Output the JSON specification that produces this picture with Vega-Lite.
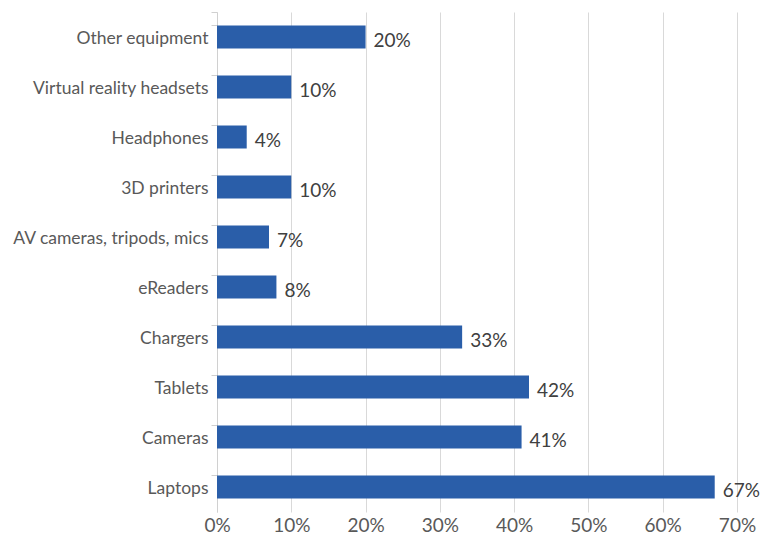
{
  "$schema": "https://vega.github.io/schema/vega-lite/v6.json",
  "width": 520,
  "height": 500,
  "autosize": {"type": "none"},
  "padding": {"left": 217, "top": 12, "right": 26, "bottom": 28},
  "background": "white",
  "config": {"view": {"stroke": null}, "font": "Lato"},
  "data": {
    "values": [
      {"item": "Other equipment", "pct": 0.20},
      {"item": "Virtual reality headsets", "pct": 0.10},
      {"item": "Headphones", "pct": 0.04},
      {"item": "3D printers", "pct": 0.10},
      {"item": "AV cameras, tripods, mics", "pct": 0.07},
      {"item": "eReaders", "pct": 0.08},
      {"item": "Chargers", "pct": 0.33},
      {"item": "Tablets", "pct": 0.42},
      {"item": "Cameras", "pct": 0.41},
      {"item": "Laptops", "pct": 0.67}
    ]
  },
  "encoding": {
    "y": {
      "field": "item",
      "type": "nominal",
      "sort": null,
      "scale": {"paddingInner": 0.54, "paddingOuter": 0.27},
      "axis": {
        "title": null,
        "bandPosition": 0,
        "tickExtra": true,
        "ticks": true,
        "tickSize": 6,
        "tickColor": "#d0d0d0",
        "domainColor": "#d0d0d0",
        "labelFontSize": 17.5,
        "labelColor": "#595959",
        "labelPadding": 3,
        "labelBaseline": "middle",
        "labelOffset": 2,
        "labelLimit": 260,
        "grid": false
      }
    }
  },
  "layer": [
    {
      "mark": {"type": "bar", "color": "#2a5ea9"},
      "encoding": {
        "x": {
          "field": "pct",
          "type": "quantitative",
          "scale": {"domain": [0, 0.7], "nice": false},
          "axis": {
            "title": null,
            "values": [0, 0.1, 0.2, 0.3, 0.4, 0.5, 0.6, 0.7],
            "format": ".0%",
            "domain": false,
            "ticks": false,
            "grid": true,
            "gridColor": "#d9d9d9",
            "labelFontSize": 19,
            "labelColor": "#595959",
            "labelPadding": 4,
            "labelFlush": false
          }
        }
      }
    },
    {
      "mark": {"type": "text", "align": "left", "baseline": "middle", "dx": 8, "dy": 4, "fontSize": 19, "color": "#404040"},
      "encoding": {
        "x": {"field": "pct", "type": "quantitative"},
        "text": {"field": "pct", "type": "quantitative", "format": ".0%"}
      }
    }
  ]
}
